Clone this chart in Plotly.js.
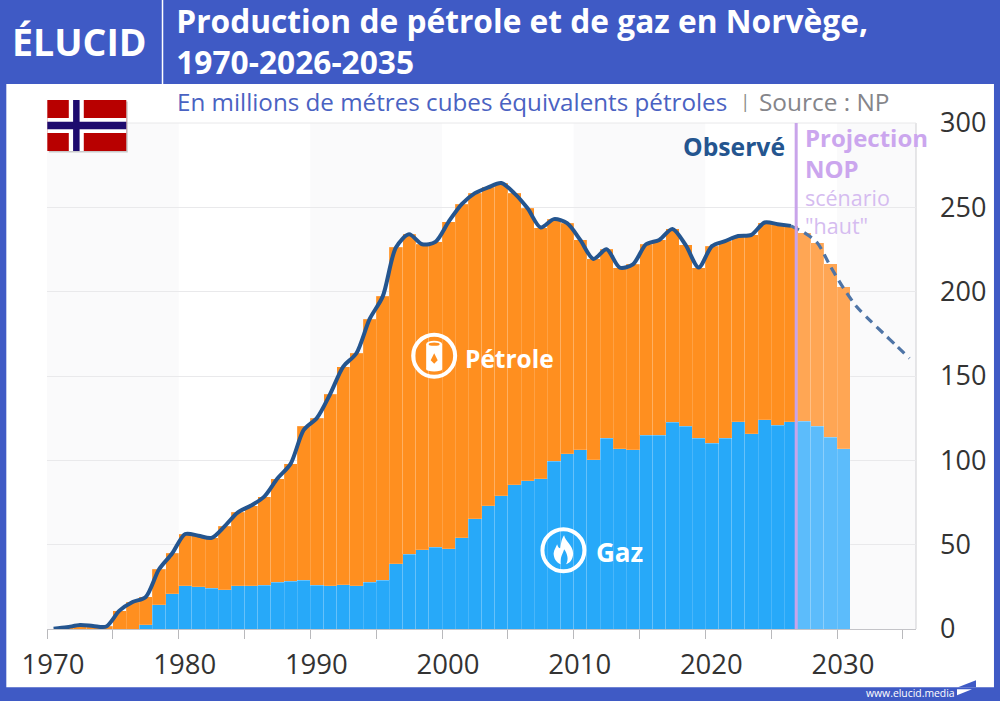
<!DOCTYPE html>
<html lang="fr">
<head>
<meta charset="utf-8">
<title>Production de pétrole et de gaz en Norvège</title>
<script src="https://cdn.plot.ly/plotly-3.0.1.min.js"></script>
<style>html,body{margin:0;padding:0;background:#3f5ac5;overflow:hidden}#chart{width:1000px;height:701px}</style>
</head>
<body>
<div id="chart"></div>
<script>
// ---------- Data (million m3 oil equivalent) ----------
const barYears = [1970,1971,1972,1973,1974,1975,1976,1977,1978,1979,1980,1981,1982,1983,1984,1985,1986,1987,1988,1989,1990,1991,1992,1993,1994,1995,1996,1997,1998,1999,2000,2001,2002,2003,2004,2005,2006,2007,2008,2009,2010,2011,2012,2013,2014,2015,2016,2017,2018,2019,2020,2021,2022,2023,2024,2025,2026,2027,2028,2029,2030];
const gasValues = [0,0,0,0,0,0,0,2.6,14.5,21,25.6,25,24.2,23.2,25.6,25.6,26,27.8,28.3,29,26,25.6,26.2,25.6,27.6,29,38.8,44.4,47,48.6,47.6,54.1,65.4,73,79.1,85.6,88,89.2,99.5,104,106.4,100.3,113,106.8,106.2,114.9,114.9,122.5,120.1,113,110,113,122.9,115.9,124,120.7,122.9,123.3,120.1,113.8,107];
const oilValues = [0.2,1,2.3,1.8,1.5,10.9,16,16.4,20.8,23.8,30.7,30.3,29.8,37.8,43.6,47.6,52.5,61.4,69.6,91.1,99.1,113.6,129.3,137.9,156.1,168.2,187.4,189.6,181.1,180.9,193.8,197.8,193,188.8,185.3,172.7,161.4,148.8,143.5,136.6,124.3,119.1,112.1,107.5,110,113.2,115.8,114.7,107.6,101.3,117,117,110.1,117.8,117,119.3,116.1,111.7,108.9,102.7,95.8];
const observedYears = [1970,1971,1972,1973,1974,1975,1976,1977,1978,1979,1980,1981,1982,1983,1984,1985,1986,1987,1988,1989,1990,1991,1992,1993,1994,1995,1996,1997,1998,1999,2000,2001,2002,2003,2004,2005,2006,2007,2008,2009,2010,2011,2012,2013,2014,2015,2016,2017,2018,2019,2020,2021,2022,2023,2024,2025,2026];
const observedTotal = [0.2,1,2.3,1.8,1.5,10.9,16,19,35.3,44.8,56.3,55.3,54,61,69.2,73.2,78.5,89.2,97.9,118,125.1,139.2,155.5,163.5,183.7,197.2,226.2,234,228.1,229.5,241.4,251.9,258.4,261.8,264.4,258.3,249.4,238,243,240.6,230.7,219.4,225.1,214.3,216.2,228.1,230.7,237.2,227.7,214.3,227,230,233,233.7,241,240,239];
const projectionYears = [2026,2027,2028,2029,2030,2031,2032,2033,2034,2035];
const projectionTotal = [239,235,229,215,202,191,183,175.5,168,160.5];
const xTickValues = [1970,1975,1980,1985,1990,1995,2000,2005,2010,2015,2020,2025,2030,2035];
const xTickLabels = ['1970','','1980','','1990','','2000','','2010','','2020','','2030',''];
const yTickValues = [0,50,100,150,200,250,300];
const bandStarts = [1970,1990,2010,2030];
const bandEnds = [1980,2000,2020,2036];
const lastObservedYear = 2026;

// ---------- Styling ----------
const BLUE = '#3f5ac5', FONT = '"Open Sans", sans-serif';
const L = 46.7, R = 916, T = 123, B = 628.7;
const px = x => (x - L) / (R - L);
const py = y => (B - y) / (B - T);
const barColors = (a, b) => barYears.map(y => y <= lastObservedYear ? a : b);
const centre = ys => ys.map(y => y + 0.5);
const sep = {color: 'rgba(255,255,255,0.2)', width: 0.8};

const traces = [
  {type:'bar', name:'Gaz', x:centre(barYears), y:gasValues, width:1,
   marker:{color:barColors('#27a9f9','#5cbcfb'), line:sep}},
  {type:'bar', name:'Pétrole', x:centre(barYears), y:oilValues, width:1,
   marker:{color:barColors('#ff8f1f','#ffa654'), line:sep}},
  {type:'scatter', mode:'lines', name:'Observé', x:centre(observedYears), y:observedTotal,
   line:{color:'#24558f', width:4, shape:'spline', smoothing:0.8}},
  {type:'scatter', mode:'lines', name:'Projection', x:centre(projectionYears), y:projectionTotal,
   line:{color:'#4e74a6', width:3.2, shape:'spline', smoothing:0.8, dash:'9px,6px'}}
];

const paperRect = (x0,y0,x1,y1,fill,layer) => ({type:'rect',xref:'paper',yref:'paper',
  x0:px(x0),x1:px(x1),y0:py(y1),y1:py(y0),fillcolor:fill,line:{width:0},layer:layer||'above'});
const pt = p => px(p[0]) + ',' + py(p[1]);
const pathOf = segs => segs.map(s => s[0] + ' ' + s.slice(1).map(pt).join(' ')).join(' ');
const paperPath = (segs,fill) => ({type:'path',xref:'paper',yref:'paper',path:pathOf(segs)+' Z',
  fillcolor:fill,line:{width:0},layer:'above'});
const oval = (cx,cy,rx,ry,fill) => ({type:'circle',xref:'paper',yref:'paper',x0:px(cx-rx),x1:px(cx+rx),y0:py(cy+ry),y1:py(cy-ry),
  fillcolor:fill,line:{width:0},layer:'above'});
const ring = (cx,cy,r) => ({type:'circle',xref:'paper',yref:'paper',x0:px(cx-r),x1:px(cx+r),y0:py(cy+r),y1:py(cy-r),
  fillcolor:'rgba(0,0,0,0)',line:{color:'#fff',width:4},layer:'above'});

const shapes = [
  // white panel and header divider
  paperRect(6,84,994,687,'#ffffff','below'),
  paperRect(161.5,0,163,84,'#ffffff','below'),
  // alternate decade bands
  ...bandStarts.map((s,i) => ({type:'rect',xref:'x',yref:'paper',x0:s,x1:bandEnds[i],y0:0,y1:1,
    fillcolor:'#fafafb',line:{width:0},layer:'below'})),
  // frame
  {type:'line',xref:'paper',yref:'paper',x0:1,x1:1,y0:0,y1:1,line:{color:'#cfcfd2',width:1},layer:'below'},
  {type:'line',xref:'paper',yref:'paper',x0:0,x1:1,y0:1,y1:1,line:{color:'#e8e8ea',width:1},layer:'below'},
  // observed / projection divider
  {type:'line',xref:'x',yref:'paper',x0:lastObservedYear+0.9,x1:lastObservedYear+0.9,y0:0,y1:1,
    line:{color:'#c9a4ea',width:3},layer:'above'},
  // flag of Norway
  paperRect(48.5,101.5,127.5,152.5,'rgba(90,90,90,0.3)'),
  paperRect(47,100,126,151,'#b80000'),
  paperRect(68.5,100,83.5,151,'#ffffff'),
  paperRect(47,118,126,133,'#ffffff'),
  paperRect(72.8,100,79.3,151,'#1e0b6e'),
  paperRect(47,121.7,126,129.3,'#1e0b6e'),
  // oil icon
  ring(434,355.7,21),
  paperPath([['M',[426,344]],['L',[442,344]],['L',[442,369]],['L',[426,369]]],'#ffffff'),
  oval(434,344,8,3.4,'#ffffff'),
  oval(434,369,8,2.4,'#ffffff'),
  oval(434,344,5.5,1.6,'#ff8f1f'),
  paperPath([['M',[434,353]],['L',[437.5,360]],['L',[434,363.5]],['L',[430.5,360]]],'#ff8f1f'),
  // gas icon
  ring(563.3,550,21),
  paperPath([['M',[564,535]],['C',[565,541],[573,545],[573,553]],['C',[573,560],[569,563],[566,564]],
             ['C',[569,559],[567,553],[564,549]],['C',[563,553],[560,556],[560.5,564]],
             ['C',[556,562],[553.5,558],[553.5,553]],['C',[554,549],[556,547],[557,544]],
             ['C',[558,547],[559,548],[560,548]],['C',[561,544],[561,539],[564,535]]],'#ffffff'),
  // footer logo: blue wedge on the panel, white wedge on the band
  paperPath([['M',[958,687]],['L',[976,680]],['L',[976,687]]],BLUE),
  paperPath([['M',[957,689]],['L',[972,689]],['L',[957,695]]],'#ffffff')
];

const note = (text,x,y,size,color,extra) => Object.assign({xref:'paper',yref:'paper',x:px(x),y:py(y),
  text,showarrow:false,xanchor:'left',yanchor:'middle',borderpad:0,
  font:{family:FONT,size,color}},extra||{});

const annotations = [
  note('<b>ÉLUCID</b>',11,42,37.5,'#ffffff'),
  note('En millions de métres cubes équivalents pétroles',176,102,24.2,'#4a62c2'),
  note('|',739,101,19,'#8a8a8a'),
  note('Source : NP',758,102,24.4,'#85858a'),
  note('<b>Observé</b>',786,146,24.7,'#24558f',{xanchor:'right'}),
  note('<b>Projection</b><br><b>NOP</b>',804,153,24,'#cba6ee',{align:'left'}),
  note('scénario<br>"haut"',804,211,21.5,'#d5bcf0',{align:'left'}),
  note('<b>Pétrole</b>',464,358,24.5,'#ffffff'),
  note('<b>Gaz</b>',595,552,26,'#ffffff'),
  note('www.elucid.media',865,692.5,10.4,'#ffffff')
];

const layout = {
  width:1000, height:701, autosize:false,
  paper_bgcolor:BLUE, plot_bgcolor:'rgba(0,0,0,0)',
  margin:{l:L, r:1000-R, t:T, b:701-B, pad:0, autoexpand:false},
  title:{text:'<b>Production de pétrole et de gaz en Norvège,<br>1970-2026-2035</b>',
    xref:'paper', yref:'container', x:px(176), xanchor:'left', y:(701-33)/701, yanchor:'top',
    font:{family:FONT,size:31.7,color:'#ffffff'}, pad:{t:0,l:0,r:0,b:0}},
  barmode:'stack', bargap:0, showlegend:false, hovermode:false,
  xaxis:{range:[1970,2036], tickmode:'array', tickvals:xTickValues, ticktext:xTickLabels,
    ticks:'outside', ticklen:9, tickwidth:1, tickcolor:'#b9b9bc', showgrid:false, zeroline:false,
    showline:true, linecolor:'#c4c4c8', linewidth:1, ticklabelshift:6, ticklabelstandoff:2,
    tickfont:{family:FONT,size:27.5,color:'#333333'}, fixedrange:true},
  yaxis:{range:[0,300], side:'right', tickmode:'array', tickvals:yTickValues, ticks:'',
    showgrid:true, gridcolor:'#e9e9eb', gridwidth:1, zeroline:false, showline:false,
    ticklabelstandoff:23, tickfont:{family:FONT,size:27,color:'#333333'}, fixedrange:true},
  shapes, annotations
};

Plotly.newPlot('chart', traces, layout, {displayModeBar:false, staticPlot:true, responsive:false});
</script>
</body>
</html>
